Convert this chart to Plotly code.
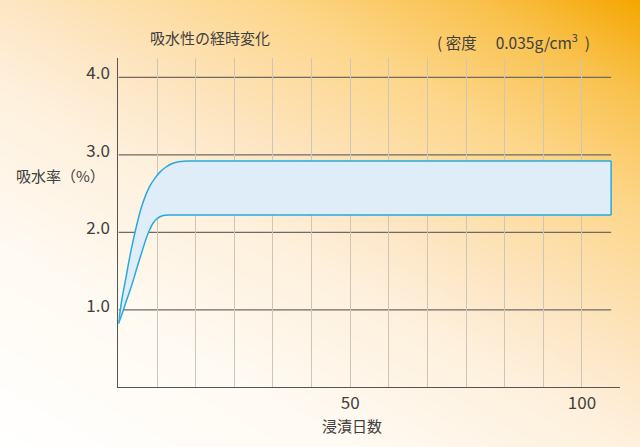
import numpy as np
import plotly.graph_objects as go

# data (days, water absorption %)
upper_days = [0, 0.8, 1.8, 2.5, 3.2, 4.1, 5.0, 5.9, 6.8, 7.9, 9.0, 10.2, 11.5, 12.5, 13.5, 15, 106.3]
upper_vals = [0.82, 1.15, 1.47, 1.70, 1.90, 2.13, 2.33, 2.48, 2.60, 2.70, 2.78, 2.84, 2.885, 2.905, 2.915, 2.92, 2.92]
lower_days = [0, 0.8, 1.8, 2.5, 3.2, 4.3, 5.4, 6.1, 6.8, 7.5, 8.3, 9.1, 10.0, 11.5, 106.3]
lower_vals = [0.82, 0.95, 1.13, 1.25, 1.38, 1.60, 1.81, 1.94, 2.04, 2.12, 2.175, 2.205, 2.22, 2.225, 2.225]

y_ticks = [1, 2, 3, 4]
y_ticktext = ["1.0", "2.0", "3.0", "4.0"]
x_gridvals = [100 / 12 * i for i in range(1, 13)]
x_ticktext = ["50" if abs(v - 50) < 1e-6 else "100" if abs(v - 100) < 1e-6 else "" for v in x_gridvals]

font = "Noto Sans CJK JP"
text_col = "#404040"
line_col = "#27a9e1"

fig = go.Figure()

# background gradient (white bottom-left -> orange top-right)
gx = np.linspace(0, 1, 40)
gy = np.linspace(0, 1, 40)
gz = [[0.45 * xx + 0.55 * yy for xx in gx] for yy in gy]
fig.add_trace(go.Heatmap(
    x=gx, y=gy, z=gz, zmin=0, zmax=1, zsmooth="best", showscale=False, hoverinfo="skip",
    colorscale=[[0, "#ffffff"], [0.25, "#fffaf2"], [0.45, "#fef0dc"], [0.55, "#fde6c4"],
                [0.74, "#fdd68a"], [0.88, "#f9c24e"], [1, "#f5a600"]],
    xaxis="x", yaxis="y"))

fig.add_trace(go.Scatter(
    x=lower_days, y=lower_vals, mode="lines",
    line=dict(color=line_col, width=1.5, shape="spline", smoothing=1),
    xaxis="x2", yaxis="y2", showlegend=False, hoverinfo="skip"))
fig.add_trace(go.Scatter(
    x=upper_days, y=upper_vals, mode="lines",
    line=dict(color=line_col, width=1.5, shape="spline", smoothing=1),
    fill="tonexty", fillcolor="#deedf7", xaxis="x2", yaxis="y2", showlegend=False, hoverinfo="skip"))
# right edge of the band
fig.add_trace(go.Scatter(
    x=[upper_days[-1], lower_days[-1]], y=[upper_vals[-1], lower_vals[-1]], mode="lines",
    line=dict(color=line_col, width=1.5), xaxis="x2", yaxis="y2", showlegend=False, hoverinfo="skip"))

shapes = []
for v in y_ticks:
    shapes.append(dict(type="line", xref="x2", yref="y2", x0=0, x1=upper_days[-1], y0=v, y1=v,
                       line=dict(color="#6e6a64", width=1.3), layer="below"))

fig.update_layout(
    width=640, height=447,
    margin=dict(l=0, r=0, t=0, b=0),
    paper_bgcolor="white", plot_bgcolor="rgba(0,0,0,0)",
    font=dict(family=font, color=text_col),
    xaxis=dict(domain=[0, 1], range=[0, 1], visible=False, fixedrange=True),
    yaxis=dict(domain=[0, 1], range=[0, 1], visible=False, fixedrange=True),
    xaxis2=dict(domain=[118.4 / 640, 620.4 / 640], range=[0, 108.3], anchor="y2",
                tickvals=x_gridvals, ticktext=x_ticktext, showgrid=True, gridcolor="#cdc5b5",
                gridwidth=1, zeroline=False, showline=True, linecolor="#555555", linewidth=1.3,
                ticks="", tickfont=dict(size=17, color=text_col), ticklabelstandoff=0),
    yaxis2=dict(domain=[1 - 387.3 / 447, 1 - 58 / 447], range=[0, 4.25], anchor="x2",
                tickvals=y_ticks, ticktext=y_ticktext, showgrid=False, zeroline=False,
                showline=True, linecolor="#555555", linewidth=1.3, ticks="",
                tickfont=dict(size=17, color=text_col), ticklabelstandoff=4, ticklabelshift=-4),
    shapes=shapes,
    showlegend=False,
)

ann = dict(xref="paper", yref="paper", showarrow=False, yanchor="middle")
fig.add_annotation(text="吸水性の経時変化", x=210 / 640, y=1 - 37 / 447, xanchor="center",
                   font=dict(size=15, color=text_col), **ann)
fig.add_annotation(text="(&nbsp;密度　 0.035g/cm<sup>3</sup>&nbsp;&nbsp;)", x=513 / 640, y=1 - 41 / 447,
                   xanchor="center", font=dict(size=15.5, color=text_col), **ann)
fig.add_annotation(text="吸水率（%）", x=14 / 640, y=1 - 175 / 447, xanchor="left",
                   font=dict(size=15, color=text_col), **ann)
fig.add_annotation(text="浸漬日数", x=351.7 / 640, y=1 - 425 / 447, xanchor="center",
                   font=dict(size=15, color=text_col), **ann)

# drop the default 8px body margin so the figure sits flush in the window
fig.write_html("out.html", config={"displayModeBar": False},
               post_script="document.body.style.margin='0';")
